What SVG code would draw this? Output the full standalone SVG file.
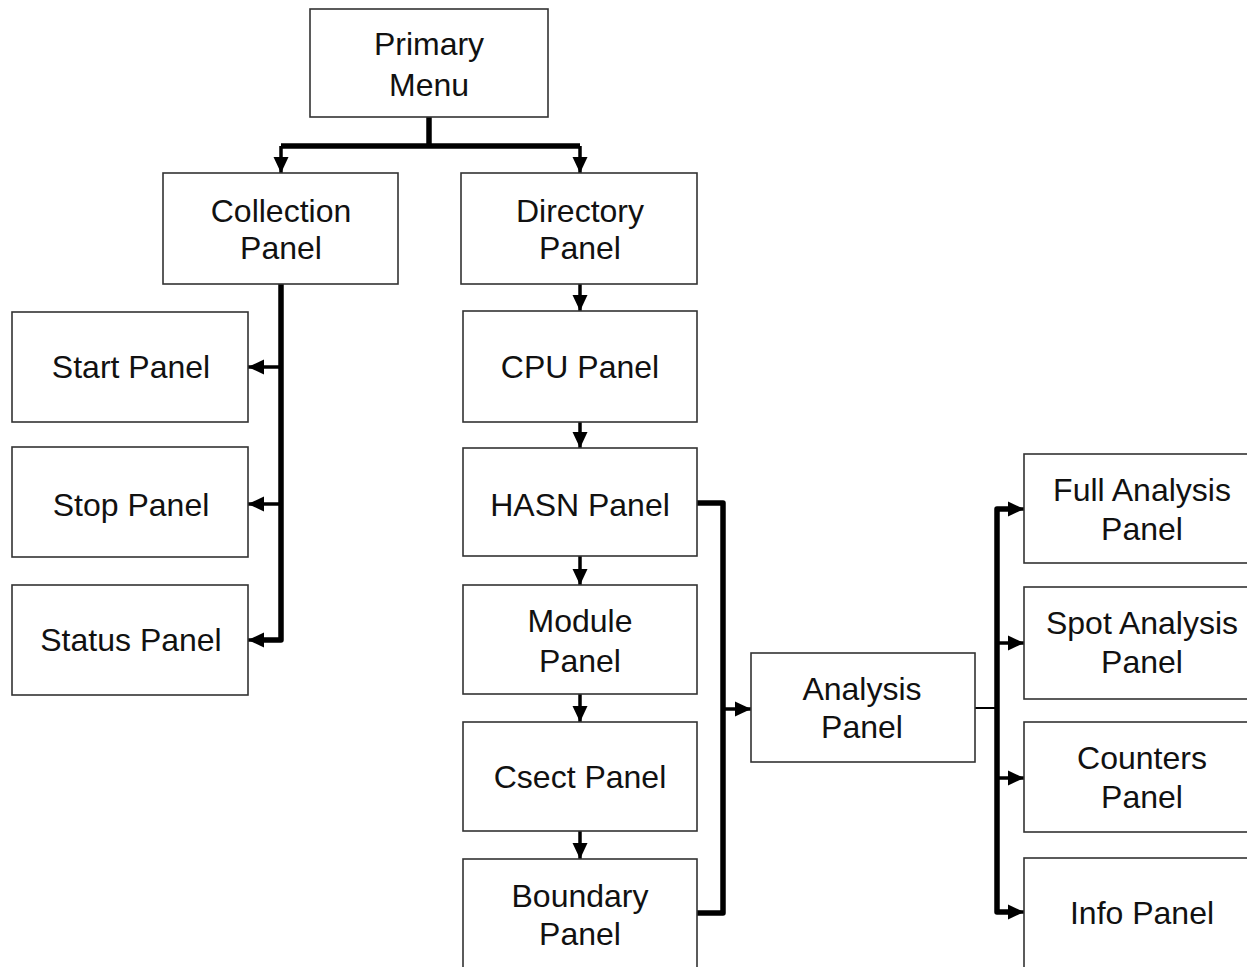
<svg xmlns="http://www.w3.org/2000/svg" width="1247" height="967" viewBox="0 0 1247 967">
<style>
.box{fill:#fff;stroke:#333;stroke-width:1.6}
.t{font-family:"Liberation Sans",Arial,sans-serif;font-size:32px;fill:#111;text-anchor:middle}
.bus{fill:none;stroke:#000;stroke-width:5.5;stroke-linejoin:round}
.stub{fill:none;stroke:#000;stroke-width:3.5}
.thin{fill:none;stroke:#000;stroke-width:2}
</style>
<defs>
<marker id="ah" viewBox="0 0 16 16" refX="16" refY="8" markerWidth="16" markerHeight="16" markerUnits="userSpaceOnUse" orient="auto">
<path d="M0,0.5 L16,8 L0,15.5 Z" fill="#000"/>
</marker>
</defs>
<rect width="1247" height="967" fill="#fff"/>
<g id="connectors">
<path class="bus" d="M429,117 V146"/>
<path class="bus" d="M281,146 H580"/>
<path class="stub" d="M281,146 V173" marker-end="url(#ah)"/>
<path class="stub" d="M580,146 V173" marker-end="url(#ah)"/>
<path class="stub" d="M580,284 V311" marker-end="url(#ah)"/>
<path class="stub" d="M580,422 V448" marker-end="url(#ah)"/>
<path class="stub" d="M580,556 V585" marker-end="url(#ah)"/>
<path class="stub" d="M580,694 V722" marker-end="url(#ah)"/>
<path class="stub" d="M580,831 V859" marker-end="url(#ah)"/>
<path class="bus" d="M281,284 V640 H264"/>
<path class="stub" d="M281,640 H248" marker-end="url(#ah)"/>
<path class="stub" d="M281,367 H248" marker-end="url(#ah)"/>
<path class="stub" d="M281,504 H248" marker-end="url(#ah)"/>
<path class="bus" d="M697,503 H723 V913 H697"/>
<path class="stub" d="M723,709 H751" marker-end="url(#ah)"/>
<path class="thin" d="M972,708 H997"/>
<path class="bus" d="M1008,509 H997 V912 H1008"/>
<path class="stub" d="M997,509 H1024" marker-end="url(#ah)"/>
<path class="stub" d="M997,643 H1024" marker-end="url(#ah)"/>
<path class="stub" d="M997,778 H1024" marker-end="url(#ah)"/>
<path class="stub" d="M997,912 H1024" marker-end="url(#ah)"/>
</g>
<g id="primary-menu"><rect class="box" x="310" y="9" width="238" height="108"/><text class="t" x="429" y="55">Primary</text><text class="t" x="429" y="96">Menu</text></g>
<g id="collection-panel"><rect class="box" x="163" y="173" width="235" height="111"/><text class="t" x="281" y="222">Collection</text><text class="t" x="281" y="259">Panel</text></g>
<g id="directory-panel"><rect class="box" x="461" y="173" width="236" height="111"/><text class="t" x="580" y="222">Directory</text><text class="t" x="580" y="259">Panel</text></g>
<g id="start-panel"><rect class="box" x="12" y="312" width="236" height="110"/><text class="t" x="131" y="378">Start Panel</text></g>
<g id="stop-panel"><rect class="box" x="12" y="447" width="236" height="110"/><text class="t" x="131" y="516">Stop Panel</text></g>
<g id="status-panel"><rect class="box" x="12" y="585" width="236" height="110"/><text class="t" x="131" y="651">Status Panel</text></g>
<g id="cpu-panel"><rect class="box" x="463" y="311" width="234" height="111"/><text class="t" x="580" y="378">CPU Panel</text></g>
<g id="hasn-panel"><rect class="box" x="463" y="448" width="234" height="108"/><text class="t" x="580" y="516">HASN Panel</text></g>
<g id="module-panel"><rect class="box" x="463" y="585" width="234" height="109"/><text class="t" x="580" y="632">Module</text><text class="t" x="580" y="672">Panel</text></g>
<g id="csect-panel"><rect class="box" x="463" y="722" width="234" height="109"/><text class="t" x="580" y="788">Csect Panel</text></g>
<g id="boundary-panel"><rect class="box" x="463" y="859" width="234" height="120"/><text class="t" x="580" y="907">Boundary</text><text class="t" x="580" y="945">Panel</text></g>
<g id="analysis-panel"><rect class="box" x="751" y="653" width="224" height="109"/><text class="t" x="862" y="700">Analysis</text><text class="t" x="862" y="738">Panel</text></g>
<g id="full-analysis-panel"><rect class="box" x="1024" y="454" width="237" height="109"/><text class="t" x="1142" y="501">Full Analysis</text><text class="t" x="1142" y="540">Panel</text></g>
<g id="spot-analysis-panel"><rect class="box" x="1024" y="587" width="237" height="112"/><text class="t" x="1142" y="634">Spot Analysis</text><text class="t" x="1142" y="673">Panel</text></g>
<g id="counters-panel"><rect class="box" x="1024" y="722" width="237" height="110"/><text class="t" x="1142" y="769">Counters</text><text class="t" x="1142" y="808">Panel</text></g>
<g id="info-panel"><rect class="box" x="1024" y="858" width="237" height="120"/><text class="t" x="1142" y="924">Info Panel</text></g>
</svg>
